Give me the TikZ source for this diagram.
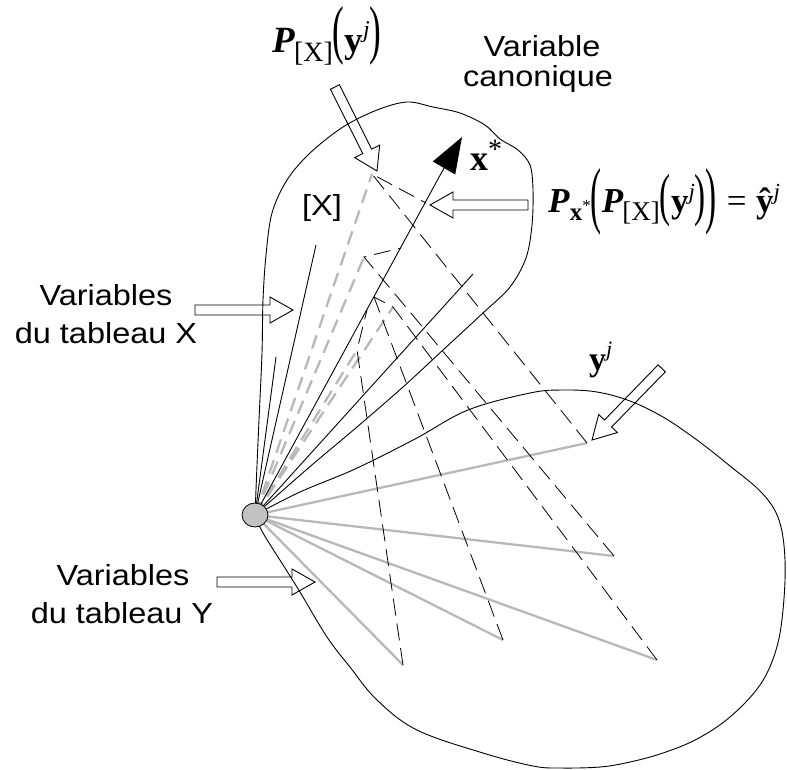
\documentclass[tikz,border=0pt]{standalone}
\usepackage{fontspec}
\usepackage{graphicx}
\usetikzlibrary{calc,shapes.geometric}
\setmainfont{Liberation Sans}[FakeStretch=1.12]
\newfontfamily\tms{Liberation Serif}
\definecolor{ygrey}{gray}{0.72}
\definecolor{ogrey}{gray}{0.76}
\newcommand{\sizesans}{\fontsize{29}{34}\selectfont}
\newcommand{\BP}{\textbf{\textit{P}}}
\begin{document}
\begin{tikzpicture}[x=1pt,y=-1pt,
  blob/.style={line width=0.9pt, black},
  xvar/.style={line width=0.9pt, black},
  yvar/.style={line width=2.3pt, ygrey},
  projg/.style={line width=2.3pt, ygrey, dash pattern=on 14pt off 8pt},
  projb/.style={line width=0.8pt, black, dash pattern=on 17pt off 8pt},
  barrow/.style={draw, line width=0.9pt, fill=none, line join=miter},
  lbl/.style={inner sep=0pt, anchor=base, font=\sizesans},
  mth/.style={inner sep=0pt, anchor=base west}]
\useasboundingbox (0,0) rectangle (787,769);

% key points
\coordinate (O) at (255,515);
\coordinate (xa) at (316,245);
\coordinate (xb) at (276,357);
\coordinate (xd) at (473,274);
\coordinate (xtip) at (462,137);
\coordinate (xbase) at (444,168);
\coordinate (y1) at (587,443);
\coordinate (y2) at (614,556);
\coordinate (y3) at (657,660);
\coordinate (y4) at (503,640);
\coordinate (y5) at (403,665);
\coordinate (p1) at (372,174);
\coordinate (p2) at (364,257);
\coordinate (p3) at (393,307);
\coordinate (p4) at (374,297);
\coordinate (p5) at (357,350);
\coordinate (q1) at (426,203);
\coordinate (q2) at (401,248);
\coordinate (q5) at (367,310);

% blobs
\draw[blob] plot[smooth, tension=0.55] coordinates {
 (255,515) (273,499) (313,464) (357,427) (403,387) (443,350) (483,313)
 (510,287) (526,258) (532,225) (533,190) (530,165) (518,150) (500,139)
 (485,125) (460,113) (433,107) (407,102) (377,110) (343,127) (310,153)
 (287,180) (272,213) (266,255) (263,300) (262,353) (259,420) (257,465) (255,515)};
\draw[blob] plot[smooth, tension=0.6] coordinates {
 (255,515) (300,492) (355,469) (415,439) (468,410) (530,393)
 (563,390) (597,392) (630,401) (663,417) (697,440) (730,466)
 (762,493) (779,520) (785,560) (783,610) (776,650) (760,685) (730,717)
 (697,739) (663,753) (630,762) (600,767) (560,768) (533,766) (483,753)
 (417,730) (377,700) (350,667) (327,637) (300,592) (285,568) (263,533) (255,515)};

% grey projections in X plane
\draw[projg] (O) -- (p1);
\draw[projg] (O) -- (p2);
\draw[projg] (O) -- (p3);
\draw[projg] (O) -- (p5);

% Y variables
\foreach \n in {y1,y2,y3,y4,y5} \draw[yvar] (O) -- (\n);

% X variables
\draw[xvar] (O) -- (xa);
\draw[xvar] (O) -- (xb);
\draw[xvar] (O) -- (xd);
\draw[xvar] (O) -- (xbase);
\fill (xtip) -- ($(xbase)!13pt!90:(xtip)$) -- ($(xbase)!13pt!-90:(xtip)$) -- cycle;

% black dashed projections
\draw[projb] (y1) -- (p1) -- (q1);
\draw[projb] (y2) -- (p2) -- (q2);
\draw[projb] (y3) -- (p3) -- (p4);
\draw[projb] (y4) -- (p4);
\draw[projb] (y5) -- (p5) -- (q5);

% origin
\node[draw, fill=ogrey, ellipse, minimum width=26pt, minimum height=24pt, inner sep=0pt, line width=0.8pt] (orig) at (O) {};

% block arrows
\coordinate (tP) at (377,171);
\coordinate (tQ) at (430,205);
\coordinate (tX) at (293,310);
\coordinate (tY) at (315,582);
\coordinate (tYj) at (592,440);
\begin{scope}[shift={(tP)}, rotate=-63.4]
 \draw[barrow] (0,0) -- (-22,14) -- (-22,5) -- (-94,5) -- (-94,-5) -- (-22,-5) -- (-22,-14) -- cycle;
\end{scope}
\begin{scope}[shift={(tQ)}, rotate=180]
 \draw[barrow] (0,0) -- (-23,13) -- (-23,5) -- (-98,5) -- (-98,-5) -- (-23,-5) -- (-23,-13) -- cycle;
\end{scope}
\begin{scope}[shift={(tX)}]
 \draw[barrow] (0,0) -- (-23,13) -- (-23,5) -- (-98,5) -- (-98,-5) -- (-23,-5) -- (-23,-13) -- cycle;
\end{scope}
\begin{scope}[shift={(tY)}]
 \draw[barrow] (0,0) -- (-23,13) -- (-23,5) -- (-98,5) -- (-98,-5) -- (-23,-5) -- (-23,-13) -- cycle;
\end{scope}
\begin{scope}[shift={(tYj)}, rotate=-134.2]
 \draw[barrow] (0,0) -- (-23,13) -- (-23,5) -- (-100,5) -- (-100,-5) -- (-23,-5) -- (-23,-13) -- cycle;
\end{scope}

% sans labels
\node[lbl] (lx1) at (106,305) {Variables};
\node[lbl] (lx2) at (106,343) {du tableau X};
\node[lbl] (ly1) at (123,585) {Variables};
\node[lbl] (ly2) at (122,623) {du tableau Y};
\node[lbl] (lc1) at (542,56) {Variable};
\node[lbl] (lc2) at (538,86) {canonique};
\node[lbl] (lX) at (322,215) {[X]};

% math labels
\node[mth] (lP) at (272,52) {\tms\fontsize{37}{40}\selectfont\BP\kern-1pt\raisebox{-9pt}{\fontsize{28}{28}\selectfont[X]}\raisebox{1pt}{\scalebox{0.95}[1.75]{(}}\textbf{y}\raisebox{15pt}{\fontsize{24}{24}\selectfont\textit{j}}\raisebox{1pt}{\scalebox{0.95}[1.75]{)}}};
\node[mth] (lstar) at (470,170) {\tms\fontsize{36}{40}\selectfont\textbf{x}\raisebox{12pt}{\fontsize{28}{28}\selectfont *}};
\node[mth] (lyj) at (589,370) {\tms\fontsize{34}{40}\selectfont\textbf{y}\raisebox{14pt}{\fontsize{22}{22}\selectfont\textit{j}}};
\node[mth] (lF) at (548,212) {\tms\fontsize{35}{40}\selectfont\BP\raisebox{-8pt}{\fontsize{25}{25}\selectfont\textbf{x}\raisebox{9pt}{\fontsize{17}{17}\selectfont *}}\raisebox{-7pt}{\scalebox{0.95}[2.1]{(}}\BP\kern-1pt\raisebox{-8pt}{\fontsize{27}{27}\selectfont[X]}\raisebox{-2pt}{\scalebox{0.95}[1.65]{(}}\textbf{y}\raisebox{13pt}{\fontsize{23}{23}\selectfont\textit{j}}\raisebox{-2pt}{\scalebox{0.95}[1.65]{)}}\raisebox{-7pt}{\scalebox{0.95}[2.1]{)}}\;=\;\textbf{ŷ}\raisebox{13pt}{\fontsize{23}{23}\selectfont\textit{j}}};
\end{tikzpicture}
\end{document}
